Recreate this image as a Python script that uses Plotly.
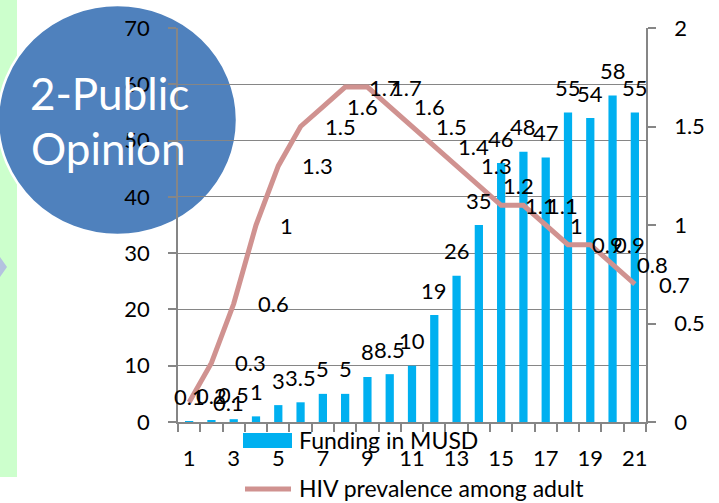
import plotly.graph_objects as go

# ---- data -------------------------------------------------------------
categories = list(range(1, 22))
funding_musd = [0.1, 0.2, 0.5, 1, 3, 3.5, 5, 5, 8, 8.5, 10,
                19, 26, 35, 46, 48, 47, 55, 54, 58, 55]
hiv_prevalence = [0.1, 0.3, 0.6, 1, 1.3, 1.5, 1.6, 1.7, 1.7, 1.6, 1.5,
                  1.4, 1.3, 1.2, 1.1, 1.1, 1, 0.9, 0.9, 0.8, 0.7]
x_tick_values = categories[::2]
left_tick_values = [0, 10, 20, 30, 40, 50, 60, 70]
right_tick_values = [0, 0.5, 1, 1.5, 2]

series_names = ["Funding in MUSD", "HIV prevalence among adult"]
bubble_lines = ["2-Public", "Opinion"]

# ---- styling ----------------------------------------------------------
W, H = 719, 503
ML, MR, MT, MB = 178, 73, 28, 81
PW, PH = W - ML - MR, H - MT - MB
BAR_COLOR = "#00B0F0"
LINE_COLOR = "#D09290"
AXIS_COLOR = "#868686"
FONT = "Lato"
FS = 22


def fmt(v):
    return f"{v:g}"


def px(x):
    """page pixel x -> paper x"""
    return (x - ML) / PW


def py(y):
    """page pixel y -> paper y"""
    return (H - MB - y) / PH


fig = go.Figure()
fig.add_trace(go.Bar(
    x=categories, y=funding_musd, name=series_names[0],
    marker=dict(color=BAR_COLOR, line=dict(width=0)), width=0.37,
    showlegend=False,
))
fig.add_trace(go.Scatter(
    x=categories, y=hiv_prevalence, name=series_names[1], yaxis="y2",
    mode="lines", line=dict(color=LINE_COLOR, width=5),
    showlegend=False,
))

annotations = []
# value labels above the bars
for c, v in zip(categories, funding_musd):
    annotations.append(dict(
        x=c, y=v, xref="x", yref="y", text=fmt(v), showarrow=False,
        xanchor="center", yanchor="middle", yshift=25,
        font=dict(family=FONT, size=FS, color="black"),
    ))
# value labels to the right of the line points
for c, v in zip(categories, hiv_prevalence):
    annotations.append(dict(
        x=c, y=v, xref="x", yref="y2", text=fmt(v), showarrow=False,
        xanchor="left", yanchor="middle", xshift=22,
        font=dict(family=FONT, size=FS, color="black"),
    ))

shapes = [
    # green side panel and arrow tip on the left edge
    dict(type="rect", xref="paper", yref="paper", layer="below",
         x0=px(0), x1=px(17), y0=py(477), y1=py(0),
         fillcolor="#CCFFCC", line=dict(width=0)),
    dict(type="path", xref="paper", yref="paper", layer="below",
         path=f"M {px(0)},{py(257)} L {px(7)},{py(267)} L {px(0)},{py(277)} Z",
         fillcolor="#B4C2E0", line=dict(width=0)),
    # blue bubble
    dict(type="circle", xref="paper", yref="paper", layer="below",
         x0=px(-2), x1=px(237), y0=py(235), y1=py(5),
         fillcolor="#4F81BD", line=dict(color="white", width=2.5)),
    # legend swatches
    dict(type="rect", xref="paper", yref="paper",
         x0=px(243), x1=px(292), y0=py(448), y1=py(433),
         fillcolor=BAR_COLOR, line=dict(width=0)),
    dict(type="line", xref="paper", yref="paper",
         x0=px(245), x1=px(291), y0=py(489), y1=py(489),
         line=dict(color=LINE_COLOR, width=5)),
]
annotations += [
    # legend texts
    dict(x=px(297), y=py(440), xref="paper", yref="paper",
         text=series_names[0], showarrow=False, xanchor="left", yanchor="middle",
         font=dict(family=FONT, size=23, color="black")),
    dict(x=px(297), y=py(488), xref="paper", yref="paper",
         text=series_names[1], showarrow=False, xanchor="left", yanchor="middle",
         font=dict(family=FONT, size=23, color="black")),
    # bubble caption
    dict(x=px(109), y=py(93), xref="paper", yref="paper",
         text=bubble_lines[0], showarrow=False, xanchor="center", yanchor="middle",
         font=dict(family=FONT, size=44, color="white")),
    dict(x=px(108), y=py(148), xref="paper", yref="paper",
         text=bubble_lines[1], showarrow=False, xanchor="center", yanchor="middle",
         font=dict(family=FONT, size=44, color="white")),
]

fig.update_layout(
    width=W, height=H,
    margin=dict(l=ML, r=MR, t=MT, b=MB, pad=0),
    paper_bgcolor="white", plot_bgcolor="rgba(0,0,0,0)",
    font=dict(family=FONT, size=FS, color="black"),
    bargap=0.63,
    showlegend=False,
    xaxis=dict(
        range=[0.5, 21.5], tickvals=x_tick_values,
        ticktext=[fmt(v) for v in x_tick_values],
        ticks="", showgrid=False, zeroline=False,
        showline=True, linecolor=AXIS_COLOR, linewidth=1.5,
        ticklabelstandoff=16,
        minor=dict(tick0=0.5, dtick=1, ticks="outside", ticklen=8,
                   tickcolor=AXIS_COLOR, tickwidth=1.5, showgrid=False),
        tickfont=dict(family=FONT, size=FS, color="black"),
    ),
    yaxis=dict(
        range=[0, 70], tickvals=left_tick_values,
        ticktext=[fmt(v) for v in left_tick_values],
        ticks="outside", ticklen=8, tickcolor=AXIS_COLOR, tickwidth=1.5,
        showgrid=True, gridcolor=AXIS_COLOR, gridwidth=1,
        zeroline=False, showline=True, linecolor=AXIS_COLOR, linewidth=1.5,
        ticklabelstandoff=14,
        tickfont=dict(family=FONT, size=FS, color="black"),
    ),
    yaxis2=dict(
        range=[0, 2], tickvals=right_tick_values,
        ticktext=[fmt(v) for v in right_tick_values],
        overlaying="y", side="right",
        ticks="outside", ticklen=8, tickcolor=AXIS_COLOR, tickwidth=1.5,
        showgrid=False, zeroline=False,
        showline=True, linecolor=AXIS_COLOR, linewidth=1.5,
        ticklabelstandoff=14,
        tickfont=dict(family=FONT, size=FS, color="black"),
    ),
    shapes=shapes,
    annotations=annotations,
)

fig.write_html("out.html")
